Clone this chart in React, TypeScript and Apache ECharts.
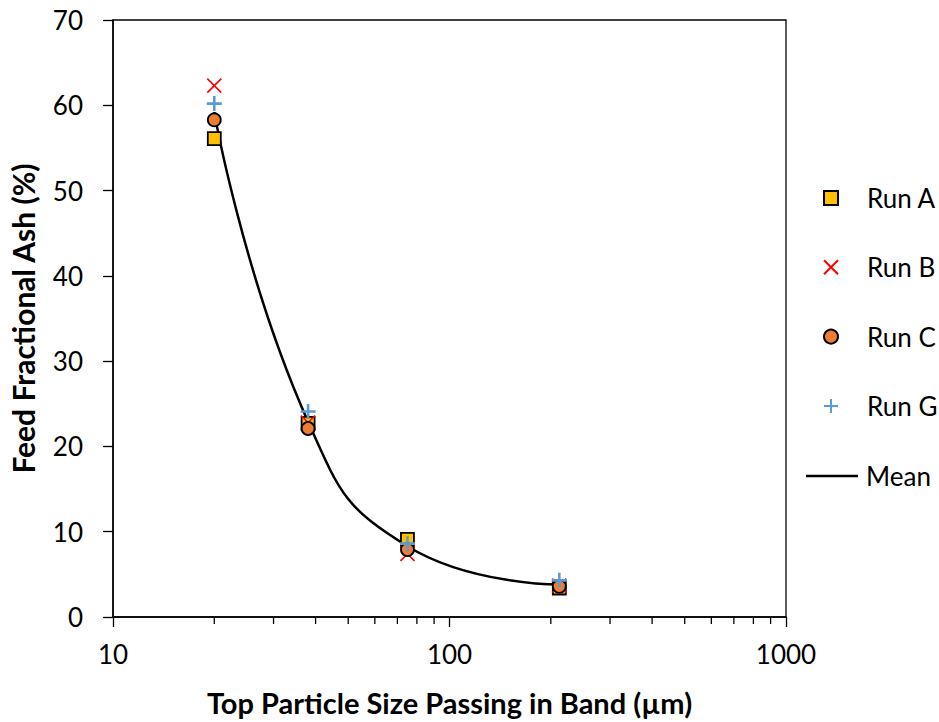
import React, { useEffect, useRef } from "react";
import * as echarts from "echarts";

const sizes = [20, 38, 75, 212];
const runA = [56.1, 22.7, 9.1, 3.4];
const runB = [62.3, 22.8, 7.4, 3.7];
const runC = [58.3, 22.1, 7.9, 3.6];
const runG = [60.2, 24.1, 8.6, 4.3];
const meanValues = [59.2, 22.9, 8.3, 3.8];
const minorTickValues = [20, 30, 40, 50, 60, 70, 80, 90, 200, 300, 400, 500, 600, 700, 800, 900];

const FONT = "Lato";

const pair = (ys: number[]) => sizes.map((x, i) => [x, ys[i]]);

export default function App() {
  const ref = useRef<HTMLDivElement>(null);
  useEffect(() => {
    document.body.style.margin = "0";
    const chart = echarts.init(ref.current!, null, { renderer: "svg" });
    const option: any = {
      animation: false,
      backgroundColor: "#fff",
      textStyle: { fontFamily: FONT, color: "#000" },
      grid: {
        left: 113,
        right: 153,
        top: 20,
        bottom: 105,
        show: true,
        borderColor: "#000",
        borderWidth: 1.3,
        containLabel: false,
      },
      legend: [
        {
          orient: "vertical",
          left: 823,
          top: 183,
          padding: 0,
          itemWidth: 14,
          itemHeight: 14,
          itemGap: 39.3,
          symbolKeepAspect: true,
          data: ["Run A", "Run B", "Run C", "Run G"],
          textStyle: { fontFamily: FONT, fontSize: 26, color: "#000", lineHeight: 30, padding: [0, 0, 0, 24] },
        },
        {
          orient: "vertical",
          left: 806,
          top: 461,
          padding: 0,
          itemWidth: 52,
          itemHeight: 2.5,
          data: [{ name: "Mean", icon: "rect" }],
          itemStyle: { color: "#000", borderWidth: 0 },
          textStyle: { fontFamily: FONT, fontSize: 26, color: "#000", lineHeight: 30, padding: [0, 0, 0, 3] },
        },
      ],
      xAxis: {
        type: "log",
        logBase: 10,
        min: 10,
        max: 1000,
        name: "Top Particle Size Passing in Band (µm)",
        nameLocation: "middle",
        nameGap: 71,
        nameTextStyle: { fontFamily: FONT, fontSize: 29, fontWeight: "bold", color: "#000" },
        axisLine: { show: true, onZero: false, lineStyle: { color: "#000", width: 1.5 } },
        axisTick: { show: true, inside: false, length: 10, lineStyle: { color: "#000", width: 1.3 } },
        axisLabel: {
          fontFamily: FONT,
          fontSize: 26,
          color: "#000",
          margin: 24,
          formatter: (v: number) => String(Math.round(v)),
        },
        splitLine: { show: false },
        minorTick: { show: false },
      },
      yAxis: {
        type: "value",
        min: 0,
        max: 70,
        interval: 10,
        name: "Feed Fractional Ash (%)",
        nameLocation: "middle",
        nameGap: 75,
        nameTextStyle: { fontFamily: FONT, fontSize: 30, fontWeight: "bold", color: "#000" },
        axisLine: { show: true, lineStyle: { color: "#000", width: 1.5 } },
        axisTick: { show: true, inside: false, length: 10, lineStyle: { color: "#000", width: 1.3 } },
        axisLabel: { fontFamily: FONT, fontSize: 26, color: "#000", margin: 30 },
        splitLine: { show: false },
      },
      series: [
        {
          name: "Mean",
          type: "line",
          data: pair(meanValues),
          smooth: 0.5,
          symbol: "none",
          lineStyle: { color: "#000", width: 2.5 },
          itemStyle: { color: "#000" },
          z: 2,
        },
        {
          name: "Run A",
          type: "scatter",
          data: pair(runA),
          symbol: "rect",
          symbolSize: 13,
          symbolKeepAspect: true,
          itemStyle: { color: "#FFC000", borderColor: "#000", borderWidth: 1.8, opacity: 1 },
          z: 3,
        },
        {
          name: "Run B",
          type: "scatter",
          data: pair(runB),
          symbol: "path://M0,0L10,10M10,0L0,10",
          symbolSize: 14,
          symbolKeepAspect: true,
          itemStyle: { color: "rgba(0,0,0,0)", borderColor: "#FF0000", borderWidth: 1.6, opacity: 1 },
          z: 4,
        },
        {
          name: "Run C",
          type: "scatter",
          data: pair(runC),
          symbol: "circle",
          symbolSize: 13,
          itemStyle: { color: "#ED7D31", borderColor: "#000", borderWidth: 1.8, opacity: 1 },
          z: 5,
        },
        {
          name: "Run G",
          type: "scatter",
          data: pair(runG),
          symbol: "path://M5,0L5,10M0,5L10,5",
          symbolSize: 15,
          symbolKeepAspect: true,
          itemStyle: { color: "rgba(0,0,0,0)", borderColor: "#5B9BD5", borderWidth: 2.6, opacity: 1 },
          z: 6,
        },
        {
          name: "minorTicks",
          type: "custom",
          data: minorTickValues.map((v) => [v, 0]),
          clip: false,
          silent: true,
          z: 7,
          renderItem: (params: any, api: any) => {
            const p = api.coord([api.value(0), 0]);
            return {
              type: "line",
              shape: { x1: p[0], y1: p[1], x2: p[0], y2: p[1] + 7 },
              style: { stroke: "#000", lineWidth: 1.3 },
            };
          },
        },
      ],
    };
    chart.setOption(option);
    return () => chart.dispose();
  }, []);
  return <div ref={ref} style={{ width: 939, height: 722 }} />;
}
